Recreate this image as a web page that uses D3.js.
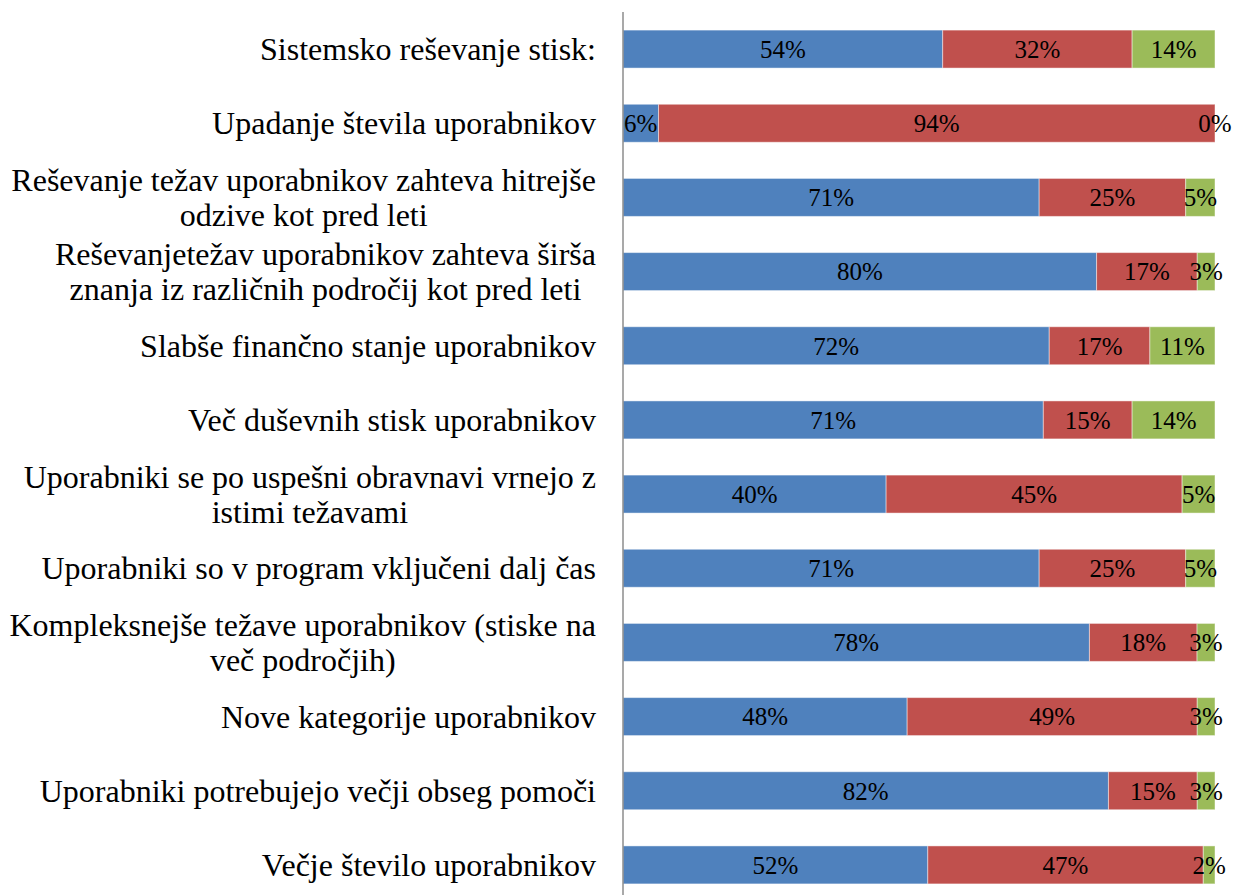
<!DOCTYPE html>
<html>
<head>
<meta charset="utf-8">
<script src="https://cdn.jsdelivr.net/npm/d3@7"></script>
<style>
  html, body { margin: 0; padding: 0; background: #fff; }
  svg { display: block; }
  text { font-family: "Liberation Serif", "Times New Roman", serif; fill: #000; }
</style>
</head>
<body>
<svg id="chart" width="1233" height="895"></svg>
<script>
const categories = [
  "Sistemsko reševanje stisk:",
  "Upadanje števila uporabnikov",
  "Reševanje težav uporabnikov zahteva hitrejše\nodzive kot pred leti",
  "Reševanjetežav uporabnikov zahteva širša\nznanja iz različnih področij kot pred leti",
  "Slabše finančno stanje uporabnikov",
  "Več duševnih stisk uporabnikov",
  "Uporabniki se po uspešni obravnavi vrnejo z\nistimi težavami",
  "Uporabniki so v program vključeni dalj čas",
  "Kompleksnejše težave uporabnikov (stiske na\nveč področjih)",
  "Nove kategorije uporabnikov",
  "Uporabniki potrebujejo večji obseg pomoči",
  "Večje število uporabnikov"
];
const seriesNames = ["s1", "s2", "s3"];
const seriesA = [54, 6, 71, 80, 72, 71, 40, 71, 78, 48, 82, 52];
const seriesB = [32, 94, 25, 17, 17, 15, 45, 25, 18, 49, 15, 47];
const seriesC = [14, 0, 5, 3, 11, 14, 5, 5, 3, 3, 3, 2];
const colors = ["#4F81BD", "#C0504D", "#9BBB59"];

const table = categories.map((c, i) => ({ cat: c, s1: seriesA[i], s2: seriesB[i], s3: seriesC[i] }));
const stack = d3.stack().keys(seriesNames).offset(d3.stackOffsetExpand);
const layers = stack(table);

const svg = d3.select("#chart");
const x = d3.scaleLinear().domain([0, 1]).range([623, 1215]);
const y = d3.scaleBand().domain(categories).range([12, 902]).paddingInner(0.488).paddingOuter(0.244);

const g = svg.append("g");
layers.forEach((layer, li) => {
  g.selectAll(null).data(layer).enter().append("rect")
    .attr("x", d => x(d[0]))
    .attr("y", d => y(d.data.cat))
    .attr("width", d => x(d[1]) - x(d[0]))
    .attr("height", y.bandwidth())
    .attr("fill", colors[li])
    .attr("stroke", "rgba(255,255,255,0.45)")
    .attr("stroke-width", 1);
});

layers.forEach((layer, li) => {
  g.selectAll(null).data(layer).enter().append("text")
    .attr("x", d => (x(d[0]) + x(d[1])) / 2)
    .attr("y", d => y(d.data.cat) + y.bandwidth() / 2)
    .attr("dy", "0.35em")
    .attr("text-anchor", "middle")
    .style("font-size", "25px")
    .text(d => d.data[seriesNames[li]] + "%");
});

// axis line
svg.append("line")
  .attr("x1", 623).attr("x2", 623)
  .attr("y1", 12).attr("y2", 895)
  .attr("stroke", "#8c8c8c").attr("stroke-width", 1.5);

// category labels (right-aligned block, centered lines)
const labelRight = 596;
const lineH = 35;
categories.forEach(c => {
  const lines = c.split("\n");
  const t = svg.append("text").style("font-size", "32px").attr("text-anchor", "middle");
  const cy = y(c) + y.bandwidth() / 2;
  const y0 = cy - (lines.length - 1) * lineH / 2;
  const spans = lines.map((ln, i) => t.append("tspan").text(ln)
    .attr("y", y0 + i * lineH).attr("dy", "0.35em"));
  let maxW = 0;
  spans.forEach(s => { maxW = Math.max(maxW, s.node().getComputedTextLength()); });
  const cx = labelRight - maxW / 2;
  spans.forEach(s => s.attr("x", cx));
});
</script>
</body>
</html>
